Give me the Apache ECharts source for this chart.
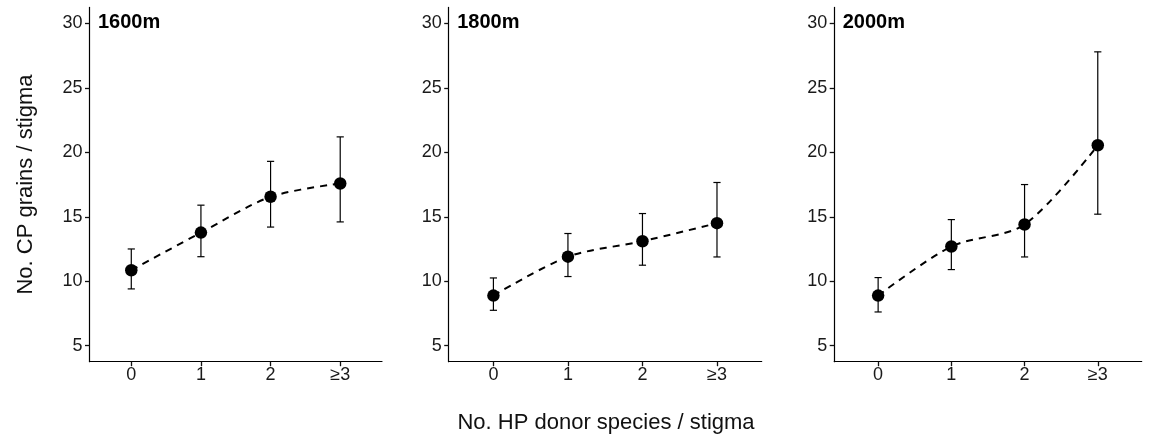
<!DOCTYPE html>
<html>
<head>
<meta charset="utf-8">
<script src="https://cdn.jsdelivr.net/npm/echarts@6/dist/echarts.min.js"></script>
<style>html,body{margin:0;padding:0;background:#fff;}#c{width:1152px;height:439px;}</style>
</head>
<body>
<div id="c"></div>
<script>
const categories = ['0', '1', '2', '≥3'];
const panelTitles = ['1600m', '1800m', '2000m'];
const yTicks = [5, 10, 15, 20, 25, 30];

const mean1600 = [10.85, 13.77, 16.55, 17.58];
const lower1600 = [9.4, 11.9, 14.2, 14.6];
const upper1600 = [12.5, 15.9, 19.3, 21.2];

const mean1800 = [8.88, 11.9, 13.1, 14.5];
const lower1800 = [7.74, 10.36, 11.24, 11.88];
const upper1800 = [10.25, 13.7, 15.25, 17.66];

const mean2000 = [8.88, 12.69, 14.4, 20.55];
const lower2000 = [7.61, 10.9, 11.88, 15.2];
const upper2000 = [10.28, 14.78, 17.5, 27.8];

const means = [mean1600, mean1800, mean2000];
const lowers = [lower1600, lower1800, lower2000];
const uppers = [upper1600, upper1800, upper2000];

const gridDefs = [
  { left: 89.5, width: 292.5 },
  { left: 448.7, width: 313 },
  { left: 834.2, width: 307.5 }
];
const TOP = 7.4, HEIGHT = 354.3;
const FONT = 'Liberation Sans, Arial, Helvetica, sans-serif';
const catIdx = categories.map((c, i) => i);

const grid = gridDefs.map(g => ({ left: g.left, width: g.width, top: TOP, height: HEIGHT, containLabel: false, outerBoundsMode: 'none' }));

const xAxis = gridDefs.map((g, k) => ({
  type: 'value', gridIndex: k, min: -0.6, max: 3.6,
  axisLine: { show: true, onZero: false, lineStyle: { color: '#000', width: 1.2 } },
  axisTick: { show: true, length: 4.5, customValues: catIdx, lineStyle: { color: '#111', width: 1.3 } },
  axisLabel: { customValues: catIdx, formatter: v => categories[Math.round(v)], color: '#1a1a1a', fontSize: 18, fontFamily: FONT, margin: 4 },
  splitLine: { show: false }
}));

const yAxis = gridDefs.map((g, k) => ({
  type: 'value', gridIndex: k, min: 3.75, max: 31.25,
  axisLine: { show: true, onZero: false, lineStyle: { color: '#000', width: 1.2 } },
  axisTick: { show: true, length: 4.5, customValues: yTicks, lineStyle: { color: '#111', width: 1.3 } },
  axisLabel: { customValues: yTicks, color: '#1a1a1a', fontSize: 18, fontFamily: FONT, margin: 7 },
  splitLine: { show: false }
}));

const series = [];
for (let k = 0; k < 3; k++) {
  series.push({
    type: 'custom', xAxisIndex: k, yAxisIndex: k, z: 2,
    data: catIdx.map(i => [i, lowers[k][i], uppers[k][i]]),
    renderItem: function (params, api) {
      const x = api.value(0);
      const pLo = api.coord([x, api.value(1)]);
      const pHi = api.coord([x, api.value(2)]);
      const hw = 3.6;
      const st = { stroke: '#000', lineWidth: 1.2 };
      return {
        type: 'group', children: [
          { type: 'line', shape: { x1: pLo[0], y1: pLo[1], x2: pHi[0], y2: pHi[1] }, style: st },
          { type: 'line', shape: { x1: pLo[0] - hw, y1: pLo[1], x2: pLo[0] + hw, y2: pLo[1] }, style: st },
          { type: 'line', shape: { x1: pHi[0] - hw, y1: pHi[1], x2: pHi[0] + hw, y2: pHi[1] }, style: st }
        ]
      };
    }
  });
  series.push({
    type: 'line', xAxisIndex: k, yAxisIndex: k, z: 3,
    data: catIdx.map(i => [i, means[k][i]]),
    smooth: 0.3, symbol: 'none',
    lineStyle: { color: '#000', width: 2, type: [7, 6] }
  });
  series.push({
    type: 'scatter', xAxisIndex: k, yAxisIndex: k, z: 4,
    data: catIdx.map(i => [i, means[k][i]]),
    symbol: 'circle', symbolSize: 12.5,
    itemStyle: { color: '#000', opacity: 1 }
  });
}

const graphic = gridDefs.map((g, k) => ({
  type: 'text', left: g.left + 8.5, top: 12,
  style: { text: panelTitles[k], fill: '#000', font: 'bold 20px ' + FONT }
}));
graphic.push({
  type: 'text', x: 26, y: TOP + HEIGHT / 2, rotation: Math.PI / 2,
  style: { text: 'No. CP grains / stigma', fill: '#111', font: '22px ' + FONT, textAlign: 'center', textVerticalAlign: 'middle' }
});
graphic.push({
  type: 'text', x: 606, y: 423,
  style: { text: 'No. HP donor species / stigma', fill: '#111', font: '22px ' + FONT, textAlign: 'center', textVerticalAlign: 'middle' }
});

const chart = echarts.init(document.getElementById('c'), null, { renderer: 'canvas' });
chart.setOption({
  animation: false,
  backgroundColor: '#fff',
  grid, xAxis, yAxis, series, graphic,
  tooltip: { show: false }
});
</script>
</body>
</html>
